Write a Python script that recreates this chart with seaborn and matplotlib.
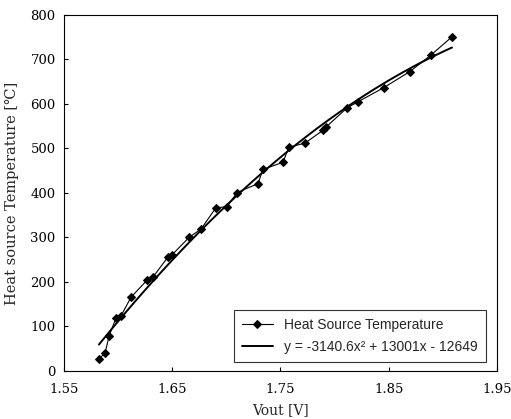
import seaborn as sns
import matplotlib.pyplot as plt
import matplotlib as mpl
import pandas as pd

vout = [1.5823, 1.5879, 1.5916, 1.5980, 1.6027, 1.6120, 1.6267, 1.6322,
        1.6460, 1.6498, 1.6655, 1.6766, 1.6904, 1.7006, 1.7098, 1.7292,
        1.7338, 1.7523, 1.7578, 1.7726, 1.7893, 1.7920, 1.8114, 1.8216,
        1.8456, 1.8696, 1.8890, 1.9084]
temp = [27, 40, 78, 119, 124, 166, 204, 211,
        256, 261, 300, 319, 367, 369, 401, 421,
        453, 469, 503, 512, 541, 548, 591, 605,
        637, 673, 710, 751]

x_ticks = [1.55, 1.65, 1.75, 1.85, 1.95]
y_ticks = [0, 100, 200, 300, 400, 500, 600, 700, 800]

series_label = "Heat Source Temperature"
fit_label = "y = -3140.6x² + 13001x - 12649"

df = pd.DataFrame({"vout": vout, "temp": temp})

sns.set_style("ticks")
mpl.rcParams.update({
    "font.family": ["DejaVu Serif"],
    "xtick.direction": "in",
    "ytick.direction": "in",
    "axes.edgecolor": "black",
    "axes.linewidth": 0.8,
})

fig = plt.figure(figsize=(5.11, 4.19), dpi=100)
ax = fig.add_axes([0.1252, 0.1146, 0.8474, 0.8496])

sns.lineplot(
    data=df, x="vout", y="temp", ax=ax,
    color="black", linewidth=0.8, marker="D", markersize=4.5,
    markeredgecolor="black", label=series_label,
)
sns.regplot(
    data=df, x="vout", y="temp", ax=ax, order=2, ci=None,
    scatter=False, truncate=True, label=fit_label,
    line_kws={"color": "black", "linewidth": 1.4},
)

ax.set_xlim(1.55, 1.95)
ax.set_ylim(0, 800)
ax.set_xticks(x_ticks)
ax.set_yticks(y_ticks)
ax.set_xticklabels([f"{t:.2f}" for t in x_ticks])
ax.tick_params(labelsize=9.5, length=3, width=0.8, colors="black")
ax.tick_params(axis="x", pad=9)
ax.tick_params(axis="y", pad=6)
for s in ax.spines.values():
    s.set_visible(True)

ax.set_xlabel("Vout [V]", fontsize=10, labelpad=5)
ax.set_ylabel("Heat source Temperature [℃]", fontsize=10.5, labelpad=8)

handles = ax.lines[:2]
labels = [series_label, fit_label]
leg = ax.legend(
    handles, labels,
    loc="lower right", bbox_to_anchor=(0.99, 0.005),
    prop={"family": "Liberation Sans", "size": 10},
    frameon=True, fancybox=False, edgecolor="black",
    handlelength=2.2, borderpad=0.6, labelspacing=0.55,
)
leg.get_frame().set_linewidth(0.8)

plt.savefig("out.png", dpi=100)
plt.close()
